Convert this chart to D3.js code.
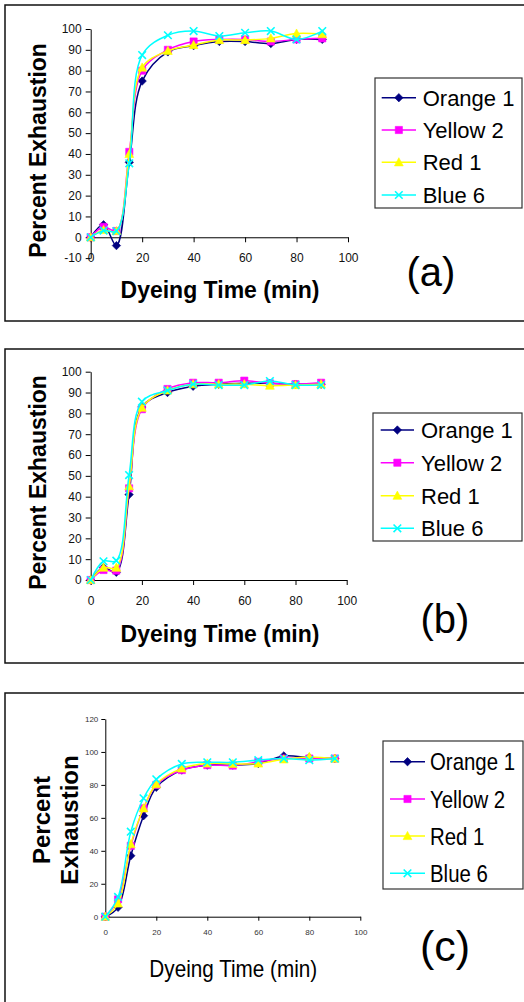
<!DOCTYPE html>
<html>
<head>
<meta charset="utf-8">
<script src="https://cdn.jsdelivr.net/npm/d3@7"></script>
<style>
  body { margin: 0; background: #fff; }
  svg { display: block; font-family: Arial, "Liberation Sans", sans-serif; }
</style>
</head>
<body>
<script>
// dyeing times (min)
const times = [0, 5, 10, 15, 20, 30, 40, 50, 60, 70, 80, 90];
const seriesNames = ['Orange 1', 'Yellow 2', 'Red 1', 'Blue 6'];

// panel (a)
const aOrange1 = [0, 6, -4, 36, 75, 89, 92, 94, 94, 93, 95, 95];
const aYellow2 = [0, 5, 3, 41, 80, 90, 94, 95, 95, 94, 95, 95.5];
const aRed1 = [0, 3.5, 3, 40, 81.5, 89.5, 92.3, 94.7, 94.7, 95.5, 97.8, 97.5];
const aBlue6 = [0, 3.2, 3, 35.5, 87.5, 97, 99, 96.6, 98.2, 99, 95, 99];

// panel (b)
const bOrange1 = [0, 6, 3.7, 41, 83, 90, 93, 94, 94.4, 94.4, 94, 94];
const bYellow2 = [0, 4.8, 4.5, 44, 82, 91.7, 94.7, 94.7, 95.7, 94.4, 94, 94.7];
const bRed1 = [0, 5.9, 5.9, 45, 82.7, 91, 94, 94, 94, 93.3, 93.6, 94];
const bBlue6 = [0, 9, 9.3, 50.4, 85.6, 91, 94, 93.6, 93.6, 95.5, 93.6, 93.6];

// panel (c)
const cOrange1 = [0, 5.7, 37, 61.3, 78.5, 89, 92, 92, 93, 97.6, 96.6, 96];
const cYellow2 = [0, 10.5, 43, 65.8, 80, 89, 92, 91.7, 94, 96, 96, 96];
const cRed1 = [0, 8, 44, 65.8, 80.4, 90, 93, 92.7, 93, 95.5, 97, 96];
const cBlue6 = [0, 12, 51.6, 71.9, 83.4, 92.7, 93.7, 93.7, 95, 96, 95, 96];

const xTicks = [0, 20, 40, 60, 80, 100];
const yTicksAB = [-10, 0, 10, 20, 30, 40, 50, 60, 70, 80, 90, 100];
const yTicksC = [0, 20, 40, 60, 80, 100, 120];

const colors = ['#000080', '#ff00ff', '#ffff00', '#00ffff'];
const shapes = ['diamond', 'square', 'triangle', 'x'];

const svg = d3.select('body').append('svg')
    .attr('width', 524)
    .attr('height', 1002);

function markerPath(shape) {
    const p = d3.path();
    if (shape === 'diamond') {
        p.moveTo(0, -4.2); p.lineTo(4.2, 0); p.lineTo(0, 4.2); p.lineTo(-4.2, 0); p.closePath();
    } else if (shape === 'square') {
        p.rect(-3.6, -3.6, 7.2, 7.2);
    } else if (shape === 'triangle') {
        p.moveTo(0, -4.6); p.lineTo(4.4, 3.6); p.lineTo(-4.4, 3.6); p.closePath();
    } else {
        p.moveTo(-3.8, -3.8); p.lineTo(3.8, 3.8);
        p.moveTo(3.8, -3.8); p.lineTo(-3.8, 3.8);
    }
    return p.toString();
}

function addMarker(sel, i, cx, cy) {
    sel.append('path')
        .attr('d', markerPath(shapes[i]))
        .attr('transform', `translate(${ cx },${ cy })`)
        .attr('fill', shapes[i] === 'x' ? 'none' : colors[i])
        .attr('stroke', colors[i])
        .attr('stroke-width', shapes[i] === 'x' ? 1.6 : 0.6);
}

function drawPanel(p, series) {
    const g = svg.append('g');

    g.append('rect')
        .attr('x', p.frame[0]).attr('y', p.frame[1])
        .attr('width', p.frame[2]).attr('height', p.frame[3])
        .attr('fill', 'none').attr('stroke', '#111').attr('stroke-width', 1.5);

    const x = d3.scaleLinear().domain([0, 100]).range(p.xRange);
    const y = d3.scaleLinear().domain(p.yDomain).range(p.yRange);

    const yAxis = g.append('g')
        .attr('transform', `translate(${ p.xRange[0] },0)`)
        .call(d3.axisLeft(y).tickValues(p.yTicks).tickFormat((d) => String(d))
            .tickSize(p.tick).tickPadding(p.yPad).tickSizeOuter(0));
    const xAxis = g.append('g')
        .attr('transform', `translate(0,${ y(0) })`)
        .call(d3.axisBottom(x).tickValues(xTicks).tickFormat((d) => String(d))
            .tickSize(p.tick).tickPadding(p.xPad).tickSizeOuter(0));

    [xAxis, yAxis].forEach((a) => {
        a.attr('font-family', null).attr('font-size', null);
        a.select('.domain').attr('stroke', '#000');
        a.selectAll('.tick line').attr('stroke', '#000');
        a.selectAll('.tick text').attr('fill', p.tickColor).style('font-size', p.tickFont + 'px');
    });

    const line = d3.line()
        .x((d, i) => x(times[i]))
        .y((d) => y(d))
        .curve(d3.curveCatmullRom.alpha(0.5));

    series.forEach((vals, si) => {
        g.append('path')
            .attr('d', line(vals))
            .attr('fill', 'none')
            .attr('stroke', colors[si])
            .attr('stroke-width', 1.5);
        vals.forEach((v, i) => addMarker(g, si, x(times[i]), y(v)));
    });

    // y axis title
    p.yTitle.forEach((t, k) => {
        g.append('text')
            .attr('transform', `translate(${ p.yTitleX[k] },${ p.yTitleY }) rotate(-90)`)
            .attr('text-anchor', 'middle')
            .style('font-size', p.yTitleFont + 'px')
            .style('font-weight', 'bold')
            .text(t);
    });

    // x axis title (panel c uses a narrower face, so squeeze it horizontally)
    g.append('text')
        .attr('transform', `translate(${ p.xTitlePos[0] },${ p.xTitlePos[1] }) scale(${ p.xTitleScale },1)`)
        .attr('text-anchor', 'middle')
        .style('font-size', p.xTitleFont + 'px')
        .style('font-weight', p.xTitleBold ? 'bold' : 'normal')
        .text('Dyeing Time (min)');

    // legend
    const lg = g.append('g');
    lg.append('rect')
        .attr('x', p.legend[0]).attr('y', p.legend[1])
        .attr('width', p.legend[2]).attr('height', p.legend[3])
        .attr('fill', '#fff').attr('stroke', '#333').attr('stroke-width', 1.2);
    seriesNames.forEach((name, si) => {
        const ry = p.legendRows[si];
        lg.append('line')
            .attr('x1', p.legendLine[0]).attr('x2', p.legendLine[1])
            .attr('y1', ry).attr('y2', ry)
            .attr('stroke', colors[si]).attr('stroke-width', 1.5);
        addMarker(lg, si, (p.legendLine[0] + p.legendLine[1]) / 2, ry);
        lg.append('text')
            .attr('transform', `translate(${ p.legendText },${ ry }) scale(${ p.legendScale },1)`)
            .attr('dy', '0.36em')
            .style('font-size', p.legendFont + 'px')
            .text(name);
    });

    // panel tag
    g.append('text')
        .attr('x', p.tag[0]).attr('y', p.tag[1])
        .attr('text-anchor', 'middle')
        .style('font-size', p.tagFont + 'px')
        .text(p.tagText);
}

drawPanel({
    frame: [5, 5, 530, 316],
    xRange: [90.7, 348], yDomain: [-10, 100], yRange: [258.1, 29],
    yTicks: yTicksAB, tick: 5, yPad: 4, xPad: 11.5, tickFont: 12, tickColor: '#111',
    yTitle: ['Percent Exhaustion'], yTitleX: [46], yTitleY: 150.5, yTitleFont: 23,
    xTitlePos: [220, 298], xTitleFont: 23, xTitleBold: true, xTitleScale: 1,
    legend: [375, 78, 147, 130], legendRows: [97.7, 130, 162.3, 195],
    legendLine: [381.7, 416], legendText: 422.7, legendFont: 22, legendScale: 1,
    tag: [431, 286], tagFont: 40, tagText: '(a)',
}, [aOrange1, aYellow2, aRed1, aBlue6]);

drawPanel({
    frame: [5, 349, 530, 314],
    xRange: [90.7, 346.7], yDomain: [0, 100], yRange: [580, 371.7],
    yTicks: yTicksAB.slice(1), tick: 5, yPad: 4, xPad: 11.5, tickFont: 12, tickColor: '#111',
    yTitle: ['Percent Exhaustion'], yTitleX: [46], yTitleY: 482.5, yTitleFont: 23,
    xTitlePos: [220, 641.5], xTitleFont: 23, xTitleBold: true, xTitleScale: 1,
    legend: [373, 413, 149, 128], legendRows: [430, 462.7, 495.7, 528.3],
    legendLine: [380.7, 414], legendText: 421, legendFont: 22, legendScale: 1,
    tag: [445, 633], tagFont: 40, tagText: '(b)',
}, [bOrange1, bYellow2, bRed1, bBlue6]);

drawPanel({
    frame: [5, 693, 530, 330],
    xRange: [105.3, 360.3], yDomain: [0, 120], yRange: [916.7, 719],
    yTicks: yTicksC, tick: 4, yPad: 3, xPad: 9, tickFont: 8, tickColor: '#333',
    yTitle: ['Percent', 'Exhaustion'], yTitleX: [50, 78], yTitleY: 820, yTitleFont: 24,
    xTitlePos: [233.3, 976.5], xTitleFont: 23, xTitleBold: false, xTitleScale: 0.9,
    legend: [383, 741, 140, 148], legendRows: [761.7, 799, 836, 873.3],
    legendLine: [390, 425], legendText: 430, legendFont: 24, legendScale: 0.85,
    tag: [445, 961], tagFont: 43, tagText: '(c)',
}, [cOrange1, cYellow2, cRed1, cBlue6]);
</script>
</body>
</html>
